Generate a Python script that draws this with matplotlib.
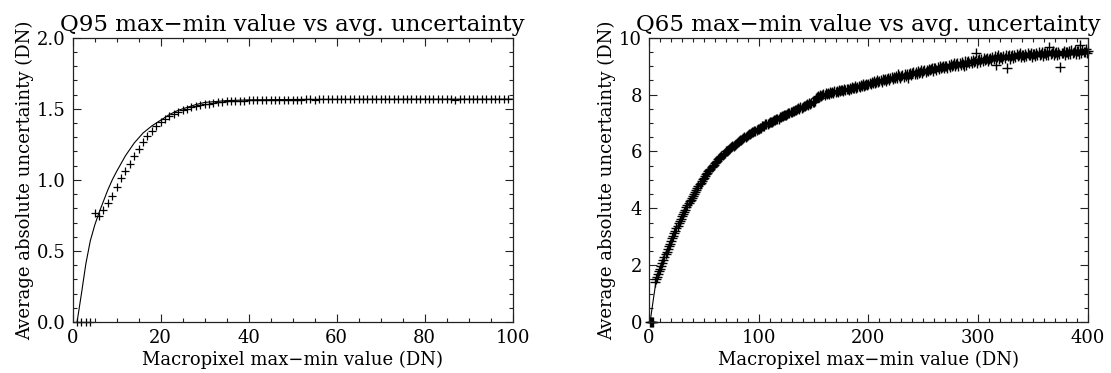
"""
Q95 / Q65 : max-min value vs average uncertainty
"""
import matplotlib
matplotlib.use("Agg")
import matplotlib.pyplot as plt
from matplotlib.ticker import MultipleLocator

# --- Q95 panel: measured points (DN 1..99) ---
q95_x = list(range(1, 100))
q95_y = [
    0.0, 0.0, 0.0, 0.0, 0.765, 0.745, 0.79, 0.835, 0.89, 0.95,
    1.01, 1.06, 1.115, 1.17, 1.22, 1.265, 1.31, 1.345, 1.38, 1.41,
    1.43, 1.45, 1.465, 1.478, 1.49, 1.50, 1.51, 1.518, 1.525, 1.531,
    1.537, 1.542, 1.546, 1.549, 1.552, 1.554, 1.556, 1.557, 1.558, 1.559,
    1.560, 1.561, 1.562, 1.562, 1.563, 1.563, 1.564, 1.564, 1.564, 1.565,
    1.565, 1.565, 1.566, 1.570, 1.565, 1.566, 1.566, 1.566, 1.567, 1.566,
    1.566, 1.567, 1.566, 1.567, 1.567, 1.566, 1.567, 1.567, 1.566, 1.567,
    1.567, 1.567, 1.568, 1.567, 1.567, 1.567, 1.568, 1.567, 1.567, 1.568,
    1.567, 1.568, 1.567, 1.568, 1.568, 1.567, 1.560, 1.568, 1.568, 1.567,
    1.568, 1.568, 1.568, 1.567, 1.568, 1.568, 1.569, 1.568, 1.572,
]
# fitted curve
q95_fit_x = [1, 2, 3, 4, 5, 6, 7, 8, 9, 10, 12, 14, 16, 18, 20, 22, 24,
             26, 28, 30, 35, 40, 50, 60, 80, 100]
q95_fit_y = [0.0, 0.2, 0.41, 0.57, 0.68, 0.77, 0.85, 0.93, 1.0, 1.06,
             1.17, 1.26, 1.33, 1.38, 1.42, 1.46, 1.49, 1.51, 1.53, 1.545,
             1.558, 1.563, 1.566, 1.567, 1.568, 1.568]

# --- Q65 panel: measured points (DN 1..400) ---
q65_x = list(range(1, 401))
q65_y = [
    0.0, 0.0, 0.0, 0.0, 1.40, 1.50, 1.58, 1.68, 1.78, 1.88,
    1.98, 2.08, 2.18, 2.28, 2.38, 2.48, 2.57, 2.66, 2.75, 2.85,
    2.94, 3.03, 3.12, 3.21, 3.30, 3.39, 3.47, 3.56, 3.64, 3.72,
    3.80, 3.88, 3.95, 4.03, 4.10, 4.17, 4.24, 4.31, 4.38, 4.45,
    4.52, 4.58, 4.65, 4.71, 4.78, 4.84, 4.90, 4.96, 5.02, 5.08,
    5.13, 5.19, 5.24, 5.30, 5.35, 5.40, 5.45, 5.49, 5.54, 5.58,
    5.63, 5.67, 5.72, 5.76, 5.80, 5.84, 5.88, 5.92, 5.96, 6.00,
    6.03, 6.06, 6.09, 6.13, 6.16, 6.19, 6.21, 6.24, 6.27, 6.30,
    6.33, 6.36, 6.39, 6.41, 6.44, 6.47, 6.50, 6.52, 6.55, 6.57,
    6.60, 6.62, 6.64, 6.67, 6.69, 6.71, 6.73, 6.76, 6.78, 6.80,
    6.83, 6.84, 6.88, 6.89, 6.90, 6.95, 6.96, 6.97, 7.01, 7.02,
    7.05, 7.05, 7.08, 7.11, 7.10, 7.14, 7.15, 7.16, 7.20, 7.21,
    7.24, 7.24, 7.28, 7.30, 7.29, 7.33, 7.35, 7.35, 7.39, 7.40,
    7.41, 7.44, 7.46, 7.45, 7.49, 7.52, 7.51, 7.55, 7.54, 7.58,
    7.60, 7.60, 7.63, 7.66, 7.64, 7.69, 7.68, 7.72, 7.74, 7.74,
    7.79, 7.87, 7.90, 7.95, 7.93, 7.98, 7.95, 7.99, 8.01, 7.98,
    8.04, 8.01, 8.06, 8.03, 8.09, 8.05, 8.10, 8.06, 8.12, 8.08,
    8.13, 8.09, 8.16, 8.12, 8.15, 8.18, 8.13, 8.20, 8.16, 8.19,
    8.21, 8.17, 8.24, 8.20, 8.26, 8.22, 8.25, 8.29, 8.23, 8.28,
    8.31, 8.27, 8.33, 8.30, 8.36, 8.32, 8.35, 8.39, 8.33, 8.38,
    8.41, 8.36, 8.44, 8.40, 8.47, 8.42, 8.45, 8.50, 8.43, 8.48,
    8.50, 8.46, 8.54, 8.51, 8.56, 8.49, 8.55, 8.60, 8.52, 8.58,
    8.61, 8.55, 8.63, 8.58, 8.66, 8.60, 8.72, 8.64, 8.59, 8.67,
    8.69, 8.63, 8.71, 8.66, 8.74, 8.58, 8.72, 8.77, 8.68, 8.75,
    8.78, 8.71, 8.80, 8.74, 8.83, 8.77, 8.81, 8.86, 8.76, 8.84,
    8.86, 8.80, 8.88, 8.83, 8.91, 8.85, 8.89, 8.94, 8.84, 8.92,
    8.95, 8.88, 8.97, 8.91, 8.99, 8.93, 8.96, 9.02, 8.92, 9.00,
    9.02, 8.95, 9.04, 8.98, 9.07, 9.01, 9.05, 9.10, 8.99, 9.08,
    9.10, 9.02, 9.12, 9.05, 9.14, 9.08, 9.00, 9.17, 9.06, 9.15,
    9.17, 9.10, 9.19, 9.12, 9.22, 9.15, 9.18, 9.48, 9.13, 9.22,
    9.24, 9.16, 9.26, 9.19, 9.28, 9.22, 9.25, 9.30, 9.18, 9.27,
    9.30, 9.22, 9.33, 9.25, 9.35, 9.05, 9.31, 9.38, 9.24, 9.33,
    9.34, 9.26, 9.36, 9.29, 9.38, 8.95, 9.35, 9.41, 9.27, 9.37,
    9.38, 9.30, 9.40, 9.32, 9.42, 9.35, 9.38, 9.45, 9.31, 9.40,
    9.41, 9.33, 9.43, 9.35, 9.46, 9.38, 9.40, 9.48, 9.34, 9.43,
    9.44, 9.36, 9.46, 9.38, 9.49, 9.41, 9.43, 9.51, 9.37, 9.46,
    9.47, 9.38, 9.49, 9.40, 9.68, 9.43, 9.45, 9.53, 9.39, 9.48,
    9.49, 9.40, 9.51, 9.42, 8.98, 9.45, 9.47, 9.55, 9.41, 9.50,
    9.51, 9.42, 9.53, 9.44, 9.56, 9.47, 9.49, 9.57, 9.43, 9.52,
    9.53, 9.44, 9.74, 9.46, 9.58, 9.49, 9.51, 9.59, 9.45, 9.54,
]
q65_fit_x = [1, 2, 3, 4, 5, 6, 7, 8, 10, 15, 20, 30, 40, 50, 60, 70, 80,
             100, 125, 150, 175, 200, 250, 300, 350, 400]
q65_fit_y = [0.0, 0.28, 0.55, 0.82, 1.08, 1.33, 1.56, 1.70, 1.92, 2.42,
             2.87, 3.70, 4.42, 5.05, 5.55, 5.98, 6.30, 6.80, 7.30, 7.72,
             8.10, 8.38, 8.86, 9.20, 9.40, 9.52]

plt.rcParams['font.family'] = 'DejaVu Serif'
plt.rcParams['font.size'] = 12

fig = plt.figure(figsize=(11.11, 3.73), dpi=100)
ax1 = fig.add_axes([0.0654, 0.1367, 0.396, 0.762])
ax2 = fig.add_axes([0.5842, 0.1367, 0.395, 0.762])


def style_axis(ax, xmaj, xmin, ymaj, ymin):
    ax.xaxis.set_major_locator(MultipleLocator(xmaj))
    ax.xaxis.set_minor_locator(MultipleLocator(xmin))
    ax.yaxis.set_major_locator(MultipleLocator(ymaj))
    ax.yaxis.set_minor_locator(MultipleLocator(ymin))
    ax.tick_params(which='both', direction='in', top=True, right=True,
                   width=0.8, labelsize=13, color='#222222')
    ax.tick_params(which='major', length=5.5, pad=5)
    ax.tick_params(which='minor', length=2.8)
    for sp in ax.spines.values():
        sp.set_linewidth(0.9)
        sp.set_color('#222222')
    ax.set_xlabel("Macropixel max\u2212min value (DN)", fontsize=13, labelpad=3)
    ax.set_ylabel("Average absolute uncertainty (DN)", fontsize=13, labelpad=2)


# Q95
ax1.plot(q95_x, q95_y, '+', color='black', ms=6, mew=0.9, clip_on=False)
ax1.plot(q95_fit_x, q95_fit_y, '-', color='black', lw=0.8)
ax1.set_xlim(0, 100)
ax1.set_ylim(0, 2.0)
style_axis(ax1, 20, 5, 0.5, 0.1)
ax1.yaxis.set_major_formatter(plt.FormatStrFormatter('%.1f'))
ax1.set_title("Q95 max\u2212min value vs avg. uncertainty", fontsize=16.5, pad=5)

# Q65
ax2.plot(q65_x, q65_y, '+', color='black', ms=6.5, mew=1.0, clip_on=False)
ax2.plot(q65_fit_x, q65_fit_y, '-', color='black', lw=0.8)
ax2.set_xlim(0, 400)
ax2.set_ylim(0, 10)
style_axis(ax2, 100, 10, 2, 0.5)
ax2.set_title("Q65 max\u2212min value vs avg. uncertainty", fontsize=16.5, pad=5)

plt.savefig('out.png', dpi=100)
plt.close()
